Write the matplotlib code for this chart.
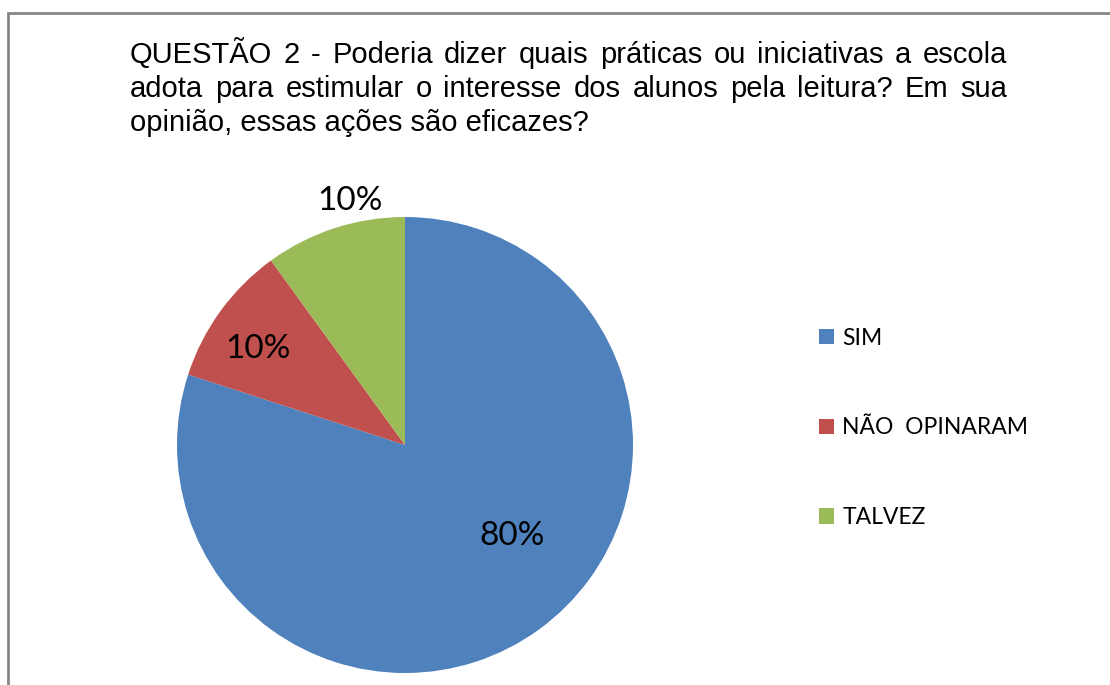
import matplotlib
matplotlib.use("Agg")
import matplotlib.pyplot as plt
from matplotlib.patches import Rectangle

# data
categories = ['SIM', 'NÃO  OPINARAM', 'TALVEZ']
values = [80, 10, 10]
colors = ['#4F81BD', '#C0504D', '#9BBB59']
title_lines = [
    'QUESTÃO 2 - Poderia dizer quais práticas ou iniciativas a escola',
    'adota para estimular o interesse dos alunos pela leitura? Em sua',
    'opinião, essas ações são eficazes?',
]

W, H = 1110, 685
fig = plt.figure(figsize=(W / 100, H / 100), dpi=100)
fig.patch.set_facecolor('white')

# chart border (gray frame, runs off right and bottom)
fig.patches.append(Rectangle((7.5, -20), 1200, H - 12.5 + 20, transform=None,
                             fill=False, edgecolor='#868686', linewidth=2))

# pie
cx, cy, r = 405, H - 445, 228
ax = fig.add_axes([(cx - r) / W, (cy - r) / H, 2 * r / W, 2 * r / H])
wedges, texts, autotexts = ax.pie(values, colors=colors, startangle=90, counterclock=False,
                                  radius=1, autopct='%1.0f%%',
                                  wedgeprops=dict(linewidth=0),
                                  textprops=dict(fontsize=24, family='Lato', color='black'))
ax.set_xlim(-1, 1)
ax.set_ylim(-1, 1)
ax.set_aspect('equal')
ax.axis('off')

# label placement (Excel "best fit" style)
label_pos = [(0.47, -0.40), (-0.645, 0.42), (-0.24, 1.07)]
for t, (lx, ly) in zip(autotexts, label_pos):
    t.set_position((lx, ly))
    t.set_ha('center')
    t.set_va('center')

# legend
fig.legend(wedges, categories, loc='center left', bbox_to_anchor=(819 / W, (H - 428) / H),
           frameon=False, borderpad=0, borderaxespad=0, handlelength=0.66, handleheight=0.66,
           handletextpad=0.36, labelspacing=3.0,
           prop=dict(family='Lato', size=16.5))

# title, justified on the first two lines
left, right = 130, 1007
baselines = [63, 97, 131]
tfont = dict(fontsize=21, family='Liberation Sans', ha='left', va='baseline')
renderer = fig.canvas.get_renderer()
for i, line in enumerate(title_lines):
    y = H - baselines[i]
    if i == len(title_lines) - 1:
        fig.text(left, y, line, transform=None, **tfont)
        continue
    words = line.split(' ')
    objs = [fig.text(0, y, w, transform=None, **tfont) for w in words]
    widths = [o.get_window_extent(renderer).width for o in objs]
    gap = (right - left - sum(widths)) / (len(words) - 1)
    x = left
    for o, w in zip(objs, widths):
        o.set_x(x)
        x += w + gap

fig.savefig('out.png', dpi=100, facecolor='white')
